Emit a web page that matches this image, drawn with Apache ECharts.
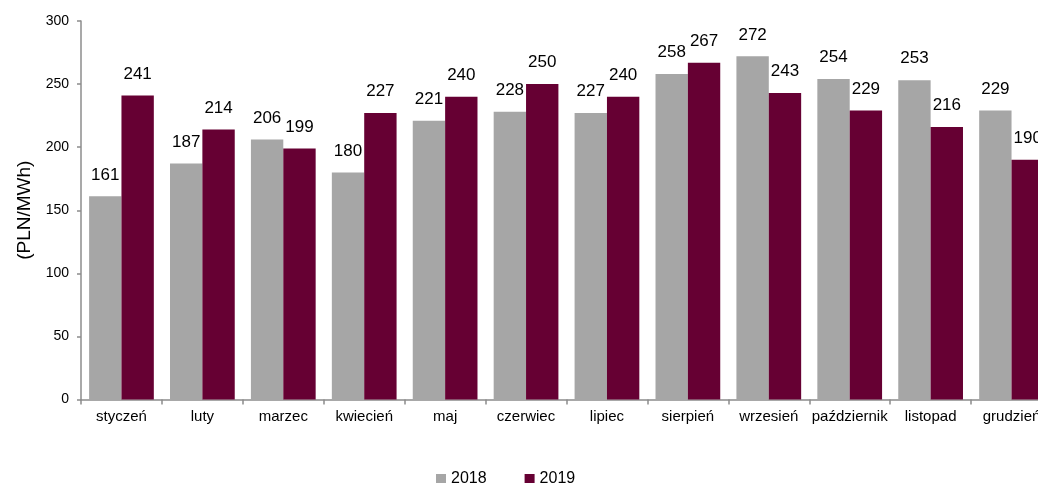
<!DOCTYPE html>
<html>
<head>
<meta charset="utf-8">
<script src="https://cdn.jsdelivr.net/npm/echarts@6/dist/echarts.min.js"></script>
<style>
  html, body { margin: 0; padding: 0; background: #fff; }
  #chart { width: 1038px; height: 483px; }
</style>
</head>
<body>
<div id="chart"></div>
<script>
// Monthly average prices, PLN/MWh
const months = ['styczeń', 'luty', 'marzec', 'kwiecień', 'maj', 'czerwiec',
                'lipiec', 'sierpień', 'wrzesień', 'październik', 'listopad', 'grudzień'];
const prices2018 = [161, 187, 206, 180, 221, 228, 227, 258, 272, 254, 253, 229];
const prices2019 = [241, 214, 199, 227, 240, 250, 240, 267, 243, 229, 216, 190];
const yTicks = [0, 50, 100, 150, 200, 250, 300];

const FONT = 'Liberation Sans, Arial, sans-serif';
const AXIS_GREY = '#8c8c8c';

const chart = echarts.init(document.getElementById('chart'), null, { renderer: 'canvas' });

const labelStyle = {
  show: true,
  position: 'top',
  distance: 13,
  color: '#000',
  fontFamily: FONT,
  fontSize: 17
};

chart.setOption({
  animation: false,
  textStyle: { fontFamily: FONT },
  // the plot runs a little past the right edge of the page
  grid: { left: 81, top: 21, width: 971, bottom: 83.5, containLabel: false, outerBoundsMode: 'none' },
  legend: {
    data: ['2018', '2019'],
    left: 431,
    top: 466,
    icon: 'rect',
    itemWidth: 10,
    itemHeight: 10,
    itemGap: 38,
    textStyle: { fontFamily: FONT, fontSize: 16, color: '#000' }
  },
  xAxis: {
    type: 'category',
    data: months,
    axisLine: { lineStyle: { color: AXIS_GREY, width: 1.5 } },
    axisTick: { show: true, alignWithLabel: false, length: 5, lineStyle: { color: AXIS_GREY, width: 1.5 } },
    axisLabel: { color: '#000', fontFamily: FONT, fontSize: 15, margin: 10, interval: 0, hideOverlap: false }
  },
  yAxis: {
    type: 'value',
    min: yTicks[0],
    max: yTicks[yTicks.length - 1],
    interval: 50,
    name: '(PLN/MWh)',
    nameLocation: 'middle',
    nameGap: 43,
    nameTextStyle: { color: '#000', fontFamily: FONT, fontSize: 19 },
    axisLine: { show: true, lineStyle: { color: AXIS_GREY, width: 1.5 } },
    axisTick: { show: true, length: 4, lineStyle: { color: AXIS_GREY, width: 1.5 } },
    axisLabel: { color: '#000', fontFamily: FONT, fontSize: 14, margin: 12 },
    splitLine: { show: false }
  },
  series: [
    {
      name: '2018',
      type: 'bar',
      data: prices2018,
      barGap: '0%',
      barCategoryGap: '20%',
      itemStyle: { color: '#a6a6a6' },
      label: labelStyle
    },
    {
      name: '2019',
      type: 'bar',
      data: prices2019,
      barGap: '0%',
      barCategoryGap: '20%',
      itemStyle: { color: '#660033' },
      label: labelStyle
    }
  ]
});
</script>
</body>
</html>
